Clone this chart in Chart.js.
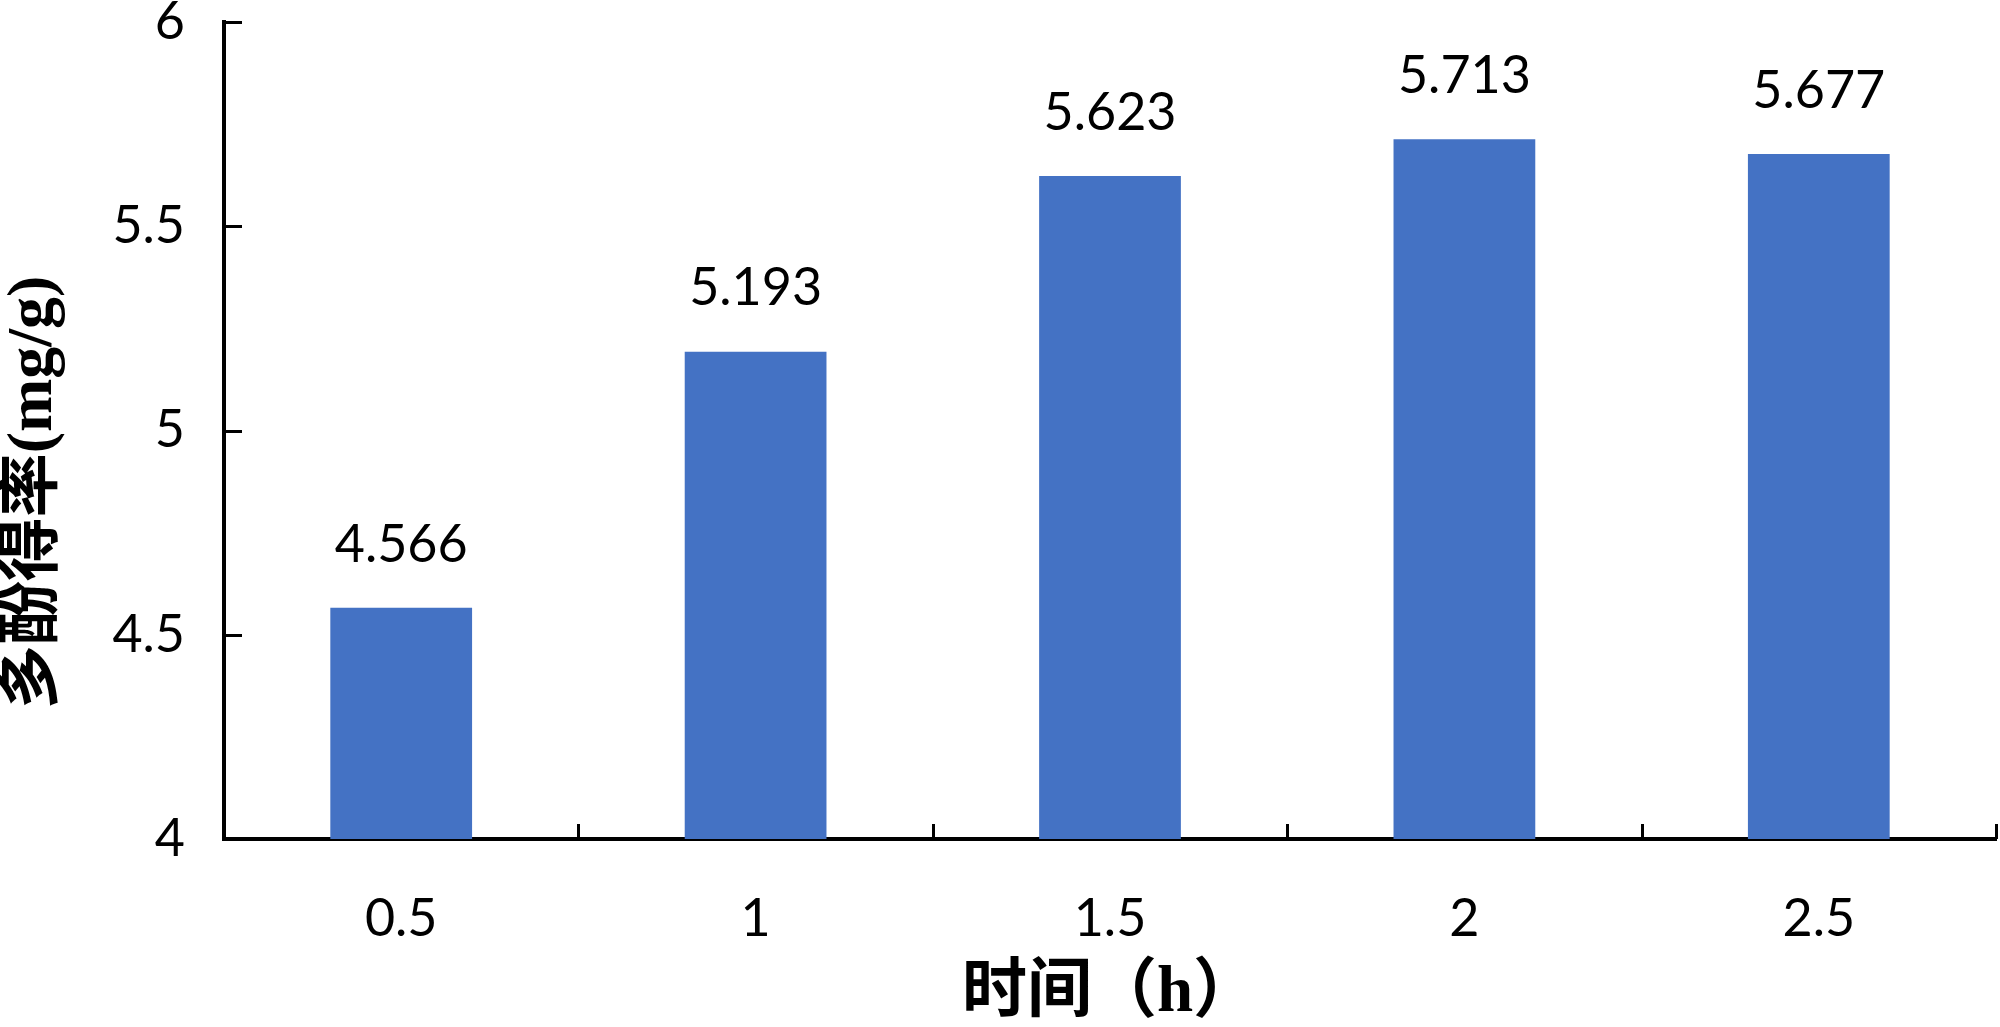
<!DOCTYPE html>
<html>
<head>
<meta charset="utf-8">
<script src="https://cdn.jsdelivr.net/npm/chart.js@4"></script>
<style>
  html, body { margin: 0; padding: 0; background: #fff; }
  #wrap { width: 2000px; height: 1027px; }
</style>
</head>
<body>
<div id="wrap"><canvas id="yieldChart" width="2000" height="1027"></canvas></div>
<script>
const timeLabels = ['0.5', '1', '1.5', '2', '2.5'];
const yieldValues = [4.566, 5.193, 5.623, 5.713, 5.677];
const yTitle = '多酚得率(mg/g)';
const xTitle = '时间（h）';

const numFont = 'Lato, "Open Sans", sans-serif';
const titleFont = '"Liberation Serif", "Noto Sans CJK SC", serif';

// inner tick marks, value labels above bars, rotated y title
const extras = {
    id: 'extras',
    afterDraw(chart) {
        const ctx = chart.ctx;
        const area = chart.chartArea;
        const xs = chart.scales.x;
        const ys = chart.scales.y;
        ctx.save();
        ctx.strokeStyle = '#000';
        ctx.lineWidth = 3;
        ctx.beginPath();
        ys.ticks.forEach(t => {
            const py = Math.round(ys.getPixelForValue(t.value)) + 0.5;
            ctx.moveTo(area.left, py);
            ctx.lineTo(area.left + 18, py);
        });
        for (let i = 0; i <= timeLabels.length; i++) {
            const px = Math.round(xs.getPixelForValue(i - 0.5)) + 0.5;
            ctx.moveTo(px, area.bottom);
            ctx.lineTo(px, area.bottom - 15);
        }
        ctx.stroke();

        const meta = chart.getDatasetMeta(0);
        ctx.fillStyle = '#000';
        ctx.font = '52px ' + numFont;
        ctx.textAlign = 'center';
        ctx.textBaseline = 'middle';
        meta.data.forEach((bar, i) => {
            ctx.fillText(yieldValues[i].toFixed(3), bar.x, bar.y - 63);
        });

        ctx.translate(34, (area.top + area.bottom) / 2 + 62);
        ctx.rotate(-Math.PI / 2);
        ctx.font = 'bold 64px ' + titleFont;
        ctx.fillText(yTitle, 0, 0);
        ctx.restore();
    }
};

const ctx = document.getElementById('yieldChart').getContext('2d');
new Chart(ctx, {
    type: 'bar',
    data: {
        labels: timeLabels,
        datasets: [{
            data: yieldValues,
            backgroundColor: '#4472C4',
            barPercentage: 0.4,
            categoryPercentage: 1.0
        }]
    },
    options: {
        responsive: false,
        animation: false,
        layout: { padding: { top: 22, right: 4, left: 0, bottom: 0 } },
        plugins: {
            legend: { display: false },
            tooltip: { enabled: false }
        },
        scales: {
            x: {
                afterFit(scale) {
                    scale.height = 188;
                    scale.paddingLeft = 0;
                    scale.paddingRight = 0;
                },
                grid: { drawOnChartArea: false, drawTicks: false },
                border: { color: '#000', width: 4 },
                ticks: {
                    padding: 49,
                    color: '#000',
                    font: { family: numFont, size: 52 }
                },
                title: {
                    display: true,
                    text: xTitle,
                    color: '#000',
                    font: { family: titleFont, size: 65, weight: 'bold' },
                    padding: { top: 0, bottom: -6 }
                }
            },
            y: {
                min: 4,
                max: 6,
                afterFit(scale) {
                    scale.width = 224;
                    scale.paddingTop = 0;
                    scale.paddingBottom = 0;
                },
                grid: { drawOnChartArea: false, drawTicks: false },
                border: { color: '#000', width: 4 },
                ticks: {
                    stepSize: 0.5,
                    padding: 39,
                    color: '#000',
                    font: { family: numFont, size: 52 },
                    callback: v => String(v)
                }
            }
        }
    },
    plugins: [extras]
});
</script>
</body>
</html>
